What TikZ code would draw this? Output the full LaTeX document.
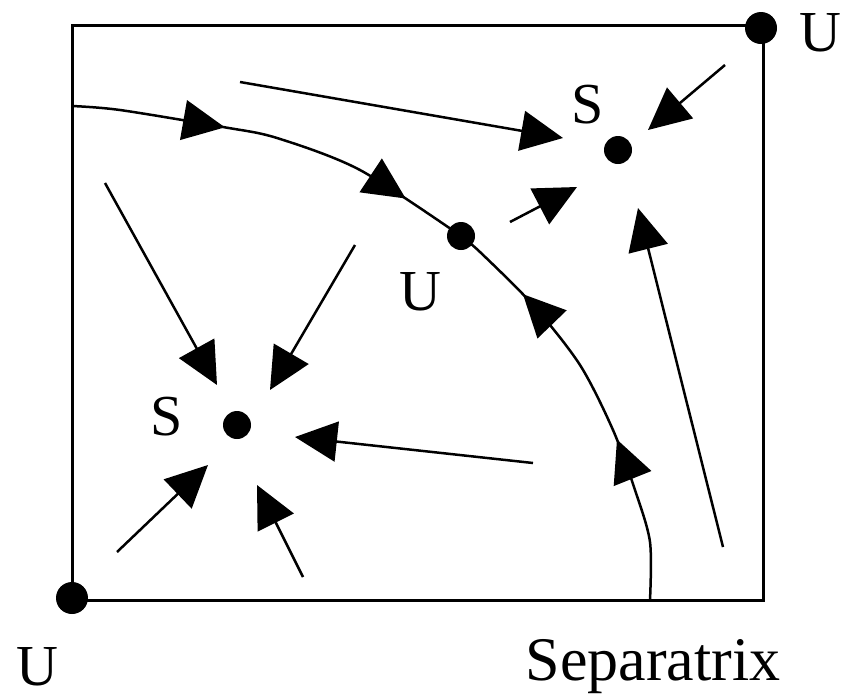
\documentclass[tikz,border=0pt]{standalone}
\usepackage{fontspec}
\setmainfont{Liberation Serif}
\usetikzlibrary{arrows.meta,decorations.markings}

\tikzset{
  dot/.style={circle, fill=black, inner sep=0pt, minimum size=28pt},
  flow/.style={line width=2.5pt, -{Triangle[length=42pt,width=40pt]}},
  sepline/.style={line width=2.5pt, postaction={decorate}},
  lbl/.style={font=\fontsize{58}{66}\selectfont, inner sep=0pt},
}

\begin{document}
\begin{tikzpicture}[x=1pt, y=-1pt]
    \useasboundingbox (0,0) rectangle (844,697);

    % Frame of the phase plane with the two corner repellers
    \draw[line width=3pt] (72,25) rectangle (763,600);
    \node[dot, minimum size=32pt] (cornerBL) at (72,598) {};
    \node[dot, minimum size=32pt] (cornerTR) at (761,28) {};

    % Interior fixed points
    \node[dot] (saddle) at (461,236) {};
    \node[dot] (sinkTR) at (618,150) {};
    \node[dot] (sinkBL) at (237,425) {};

    % Labels
    \node[lbl] (labTR) at (820,33) {U};
    \node[lbl] (labBL) at (37,667) {U};
    \node[lbl] (labSaddle) at (420,292) {U};
    \node[lbl] (labSinkTR) at (588,105) {S};
    \node[lbl] (labSinkBL) at (167,417) {S};
    \node[lbl, anchor=base, font=\fontsize{62}{70}\selectfont] (labSep) at (653,680) {Separatrix};

    % Separatrix: two branches running into the saddle
    \coordinate (sepLeft) at (72,106);
    \coordinate (sepFoot) at (650,600);
    \draw[sepline, decoration={markings,
        mark=at position 0.37 with {\arrow{Triangle[length=42pt,width=40pt]}},
        mark=at position 0.84 with {\arrow{Triangle[length=42pt,width=40pt]}}}]
        plot[smooth] coordinates {(sepLeft) (120,110) (223,127) (277,138) (360,170) (saddle.center)};
    \draw[sepline, decoration={markings,
        mark=at position 0.39 with {\arrow{Triangle[length=42pt,width=40pt]}},
        mark=at position 0.80 with {\arrow{Triangle[length=42pt,width=40pt]}}}]
        plot[smooth] coordinates {(sepFoot) (650,542) (635,490) (613,430) (580,365) (533,305) (480,252) (saddle.center)};

    % Flow into the upper right sink
    \coordinate (a0) at (240,82);   \coordinate (a1) at (563,138);
    \coordinate (b0) at (725,65);   \coordinate (b1) at (648,130);
    \coordinate (c0) at (510,222);  \coordinate (c1) at (577,187);
    \coordinate (d0) at (723,547);  \coordinate (d1) at (638,208);
    \draw[flow] (a0) -- (a1);
    \draw[flow] (b0) -- (b1);
    \draw[flow] (c0) -- (c1);
    \draw[flow] (d0) -- (d1);

    % Flow into the lower left sink
    \coordinate (e0) at (105,183);  \coordinate (e1) at (217,385);
    \coordinate (f0) at (355,245);  \coordinate (f1) at (270,390);
    \coordinate (g0) at (533,463);  \coordinate (g1) at (295,437);
    \coordinate (h0) at (117,552);  \coordinate (h1) at (208,465);
    \coordinate (i0) at (303,577);  \coordinate (i1) at (257,485);
    \draw[flow] (e0) -- (e1);
    \draw[flow] (f0) -- (f1);
    \draw[flow] (g0) -- (g1);
    \draw[flow] (h0) -- (h1);
    \draw[flow] (i0) -- (i1);
\end{tikzpicture}
\end{document}
